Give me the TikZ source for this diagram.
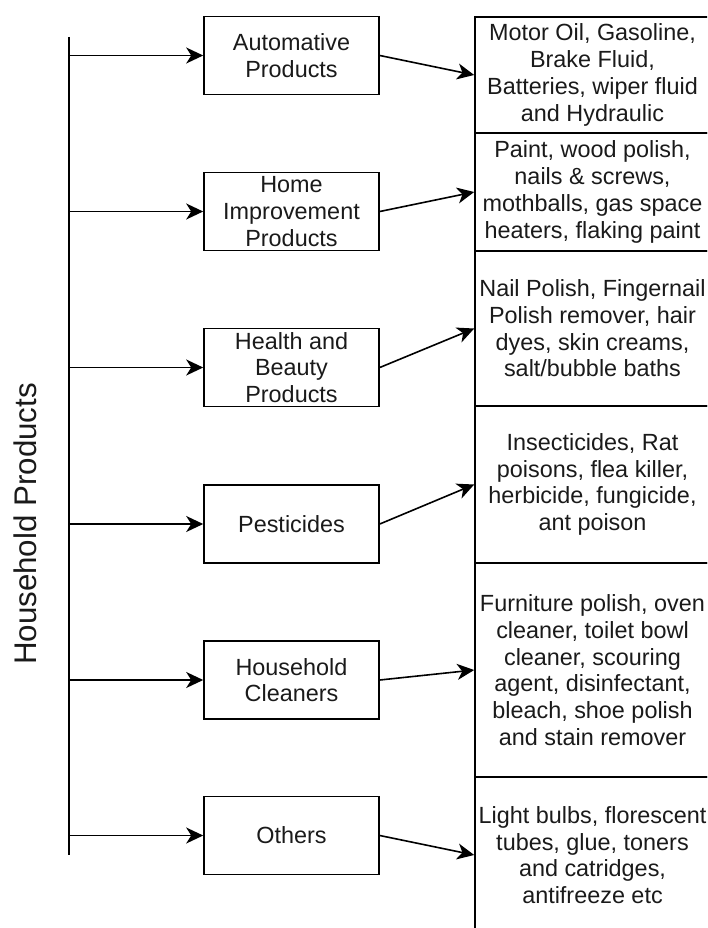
\documentclass[tikz,border=0pt]{standalone}
\usepackage{fontspec}
\setmainfont{Liberation Sans}
\usetikzlibrary{arrows.meta}
\definecolor{ink}{HTML}{1A1A1A}
\begin{document}
\begin{tikzpicture}[x=1pt,y=-1pt,
  line width=1.6pt,
  catbox/.style={draw, rectangle, minimum width=175pt, minimum height=78pt, inner sep=0pt, align=center, text=ink, font=\fontsize{23.4}{26.7}\selectfont},
  itembox/.style={draw, rectangle, minimum width=235pt, inner sep=0pt, align=center, text=ink, font=\fontsize{23.4}{26.7}\selectfont},
  arr/.style={-{Stealth[length=17pt,width=16pt,inset=5pt]}}
]
\useasboundingbox (0,0) rectangle (707,928);
\begin{scope}
\clip (0,0) rectangle (707,928);
% right item boxes
\node[itembox, minimum height=116pt] (r1) at (592.5,75) {Motor Oil, Gasoline,\\Brake Fluid,\\Batteries, wiper fluid\\and Hydraulic};
\node[itembox, minimum height=118pt] (r2) at (592.5,192) {Paint, wood polish,\\nails \& screws,\\mothballs, gas space\\heaters, flaking paint};
\node[itembox, minimum height=155pt] (r3) at (592.5,328.5) {Nail Polish, Fingernail\\Polish remover, hair\\dyes, skin creams,\\salt/bubble baths};
\node[itembox, minimum height=157pt] (r4) at (592.5,484.5) {Insecticides, Rat\\poisons, flea killer,\\herbicide, fungicide,\\ant poison};
\node[itembox, minimum height=214pt] (r5) at (592.5,670) {Furniture polish, oven\\cleaner, toilet bowl\\cleaner, scouring\\agent, disinfectant,\\bleach, shoe polish\\and stain remover};
\node[itembox, minimum height=156pt] (r6) at (592.5,855) {Light bulbs, florescent\\tubes, glue, toners\\and catridges,\\antifreeze etc};
\end{scope}
% category boxes
\node[catbox] (c1) at (291.5,55.5) {Automative\\Products};
\node[catbox] (c2) at (291.5,211.5) {Home\\Improvement\\Products};
\node[catbox] (c3) at (291.5,367.5) {Health and\\Beauty\\Products};
\node[catbox] (c4) at (291.5,524) {Pesticides};
\node[catbox] (c5) at (291.5,680) {Household\\Cleaners};
\node[catbox] (c6) at (291.5,835.5) {Others};
% spine
\coordinate (top) at (69,37);
\coordinate (bot) at (69,855);
\draw (top) -- (bot);
\node[rotate=90, text=ink, font=\fontsize{31.3}{36}\selectfont, inner sep=0pt] (title) at (25.5,524) {Household Products};
\foreach \i in {1,...,6}{
  \coordinate (s\i) at (top |- c\i.west);
  \draw[arr] (s\i) -- (c\i.west);
  \draw[arr] (c\i.east) -- (r\i.west);
}
\end{tikzpicture}
\end{document}
